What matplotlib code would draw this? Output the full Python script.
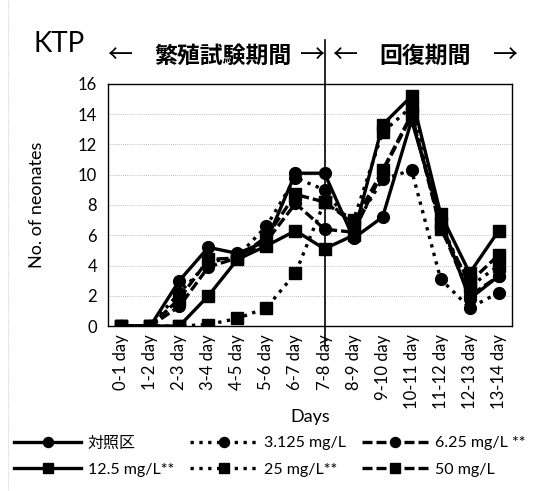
import matplotlib
matplotlib.use('Agg')
import matplotlib.pyplot as plt
from matplotlib.lines import Line2D

plt.rcParams['font.family'] = ['Lato', 'Noto Sans CJK JP', 'DejaVu Sans']

days = ['0-1 day', '1-2 day', '2-3 day', '3-4 day', '4-5 day', '5-6 day', '6-7 day',
        '7-8 day', '8-9 day', '9-10 day', '10-11 day', '11-12 day', '12-13 day', '13-14 day']

control = [0, 0, 3.0, 5.2, 4.8, 5.6, 10.1, 10.1, 5.8, 7.2, 13.6, 7.0, 1.8, 3.3]
c3125 = [0, 0, 2.2, 4.2, 4.6, 6.6, 9.8, 9.0, 6.5, 9.7, 10.3, 3.1, 1.2, 2.2]
c625 = [0, 0, 1.3, 3.9, 4.5, 5.6, 8.1, 6.4, 6.2, 10.2, 13.9, 6.6, 2.0, 3.3]
c125 = [0, 0, 0, 2.0, 4.4, 5.3, 6.3, 5.1, 6.0, 13.3, 15.2, 7.4, 3.5, 6.3]
c25 = [0, 0, 0, 0.1, 0.5, 1.2, 3.5, 8.2, 7.0, 12.8, 14.5, 6.8, 2.6, 4.0]
c50 = [0, 0, 1.8, 4.4, 4.5, 5.9, 8.7, 8.2, 6.8, 10.3, 14.0, 6.4, 2.9, 4.7]

labels = ['対照区', '3.125 mg/L', '6.25 mg/L **', '12.5 mg/L**', '25 mg/L**', '50 mg/L']
series = [control, c3125, c625, c125, c25, c50]
styles = [('-', 'o'), (':', 'o'), ((0, (3, 1.2)), 'o'),
          ('-', 's'), (':', 's'), ((0, (3, 1.2)), 's')]

fig = plt.figure(figsize=(5.41, 4.91), dpi=100)
ax = fig.add_axes([0.2, 0.336, 0.746, 0.493])

x = list(range(len(days)))
handles = []
for vals, (ls, mk), lab in zip(series, styles, labels):
    h, = ax.plot(x, vals, color='black', linestyle=ls, linewidth=2.4,
                 marker=mk, markersize=8.5, label=lab)
    handles.append(h)

ax.set_xlim(-0.45, len(days) - 0.55)
ax.set_ylim(0, 16)
ax.set_yticks(range(0, 17, 2))
ax.set_xticks(x)
ax.set_xticklabels(days, rotation=90, fontsize=12)
ax.tick_params(axis='y', labelsize=12, length=0, pad=8)
ax.tick_params(axis='x', length=0, pad=6)
ax.grid(axis='y', color='#aaaaaa', linestyle=(0, (1, 1.5)), linewidth=0.6)
ax.set_axisbelow(True)
for s in ax.spines.values():
    s.set_linewidth(1.0)
ax.set_ylabel('No. of neonates', fontsize=13, labelpad=24)
ax.set_xlabel('Days', fontsize=13, labelpad=0)

# boundary between exposure and recovery periods
ax.axvline(7, ymin=-0.08, ymax=1.18, color='black', linewidth=1.2, clip_on=False)

fig.text(0.062, 0.91, 'KTP', fontsize=20, va='center')

jp = ['Noto Sans CJK JP', 'DejaVu Sans']
ty = 0.885
fig.text(0.222, ty, '←', fontsize=18, ha='center', va='center', family=jp)
fig.text(0.412, ty, '繁殖試験期間', fontsize=16.5, ha='center', va='center',
         fontweight='bold', family=jp)
fig.text(0.577, ty, '→', fontsize=18, ha='center', va='center', family=jp)
fig.text(0.637, ty, '←', fontsize=18, ha='center', va='center', family=jp)
fig.text(0.785, ty, '回復期間', fontsize=16.5, ha='center', va='center',
         fontweight='bold', family=jp)
fig.text(0.935, ty, '→', fontsize=18, ha='center', va='center', family=jp)

order = [0, 3, 1, 4, 2, 5]
fig.legend([handles[i] for i in order], [labels[i] for i in order],
           loc='lower left', bbox_to_anchor=(0.0, 0.0), ncol=3, frameon=False,
           fontsize=11.5, handlelength=4.2, columnspacing=1.0, handletextpad=0.4,
           labelspacing=0.75, markerscale=0.85)

fig.add_artist(Line2D([0.015, 0.015], [0.0, 1.0], color='#bbbbbb',
                      linestyle=(0, (1, 1.5)), linewidth=0.6))

fig.savefig('out.png', dpi=100)
